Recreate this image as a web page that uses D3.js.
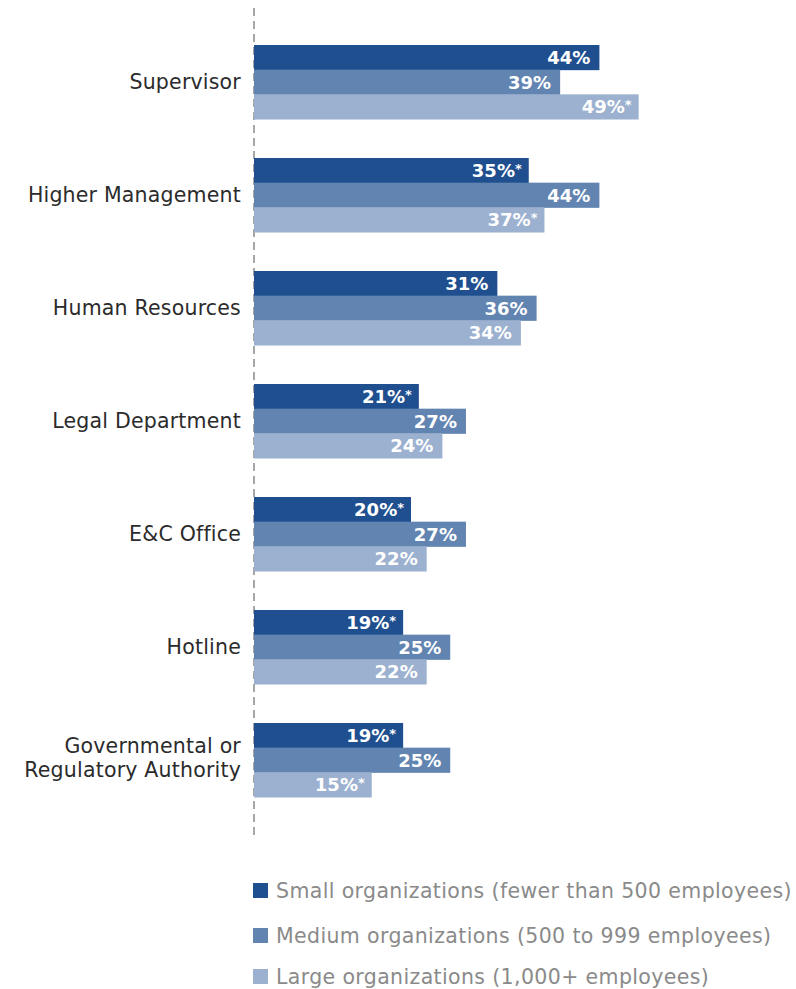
<!DOCTYPE html>
<html>
<head>
<meta charset="utf-8">
<script src="https://cdn.jsdelivr.net/npm/d3@7"></script>
<style>
  html, body { margin: 0; padding: 0; background: #fff; }
  svg { display: block; }
</style>
</head>
<body>
<div id="chart"></div>
<script>
// Channels used to report misconduct, by organization size
const categories = [
  ["Supervisor"],
  ["Higher Management"],
  ["Human Resources"],
  ["Legal Department"],
  ["E&C Office"],
  ["Hotline"],
  ["Governmental or", "Regulatory Authority"]
];
const seriesNames = [
  "Small organizations (fewer than 500 employees)",
  "Medium organizations (500 to 999 employees)",
  "Large organizations (1,000+ employees)"
];
const smallValues  = [44, 35, 31, 21, 20, 19, 19];
const mediumValues = [39, 44, 36, 27, 27, 25, 25];
const largeValues  = [49, 37, 34, 24, 22, 22, 15];
// significance flags (asterisk after the label)
const smallSig  = [false, true, false, true, true, true, true];
const mediumSig = [false, false, false, false, false, false, false];
const largeSig  = [true, true, false, false, false, false, true];
const colors = ["#1f4f8f", "#6284b1", "#9cb1cf"];

const W = 796, H = 989;
const svg = d3.select("#chart").append("svg").attr("width", W).attr("height", H);

const font = "'DejaVu Sans', sans-serif";
const series = [
  { name: seriesNames[0], values: smallValues, sig: smallSig, color: colors[0] },
  { name: seriesNames[1], values: mediumValues, sig: mediumSig, color: colors[1] },
  { name: seriesNames[2], values: largeValues, sig: largeSig, color: colors[2] }
];

const x0 = 254;
const x = d3.scaleLinear().domain([0, 100]).range([x0, x0 + 785]);
const y = d3.scaleBand().domain(d3.range(categories.length)).range([45, 797]).paddingInner(0.345).paddingOuter(0);
const yInner = d3.scaleBand().domain(d3.range(series.length)).range([0, y.bandwidth()]);

// dashed baseline
svg.append("line")
  .attr("x1", x0).attr("x2", x0).attr("y1", 8).attr("y2", 836)
  .attr("stroke", "#777").attr("stroke-width", 1.3).attr("stroke-dasharray", "8,5");

const groups = svg.selectAll("g.cat").data(categories).enter().append("g")
  .attr("class", "cat")
  .attr("transform", (d, i) => `translate(0,${y(i)})`);

// category labels
groups.each(function(lines, i) {
  const g = d3.select(this);
  const cy = y.bandwidth() / 2 - (lines.length > 1 ? 2.5 : 0);
  const lh = 24;
  const t = g.append("text")
    .attr("x", 241).attr("text-anchor", "end")
    .attr("font-family", font).attr("font-size", 20.5).attr("fill", "#2b2b2b")
    .attr("letter-spacing", 0.2);
  lines.forEach((ln, k) => {
    t.append("tspan").attr("x", 241)
      .attr("y", cy + (k - (lines.length - 1) / 2) * lh)
      .attr("dy", "0.36em").text(ln);
  });
});

// bars and value labels
series.forEach((s, si) => {
  groups.append("rect")
    .attr("x", x0)
    .attr("y", yInner(si))
    .attr("width", (d, i) => x(s.values[i]) - x0)
    .attr("height", yInner.bandwidth() + 0.5)
    .attr("fill", s.color);

  const lbl = groups.append("text")
    .attr("x", (d, i) => x(s.values[i]) - (s.sig[i] ? 7 : 9))
    .attr("y", yInner(si) + yInner.bandwidth() / 2)
    .attr("dy", "0.37em")
    .attr("text-anchor", "end")
    .attr("font-family", font).attr("font-weight", "bold")
    .attr("font-size", 18).attr("fill", "#fff");
  lbl.append("tspan").text((d, i) => s.values[i] + "%");
  lbl.filter((d, i) => s.sig[i]).append("tspan")
    .attr("font-size", 13).attr("dy", "-0.3em").text("*");
});

// legend
const legend = svg.append("g");
const legendY = [891, 936, 977];
series.forEach((s, si) => {
  legend.append("rect")
    .attr("x", 253).attr("y", legendY[si] - 8).attr("width", 15).attr("height", 15)
    .attr("fill", s.color);
  legend.append("text")
    .attr("x", 276).attr("y", legendY[si]).attr("dy", "0.36em")
    .attr("font-family", font).attr("font-size", 20.5).attr("fill", "#8a8a8a")
    .attr("letter-spacing", 0.37)
    .text(s.name);
});
</script>
</body>
</html>
